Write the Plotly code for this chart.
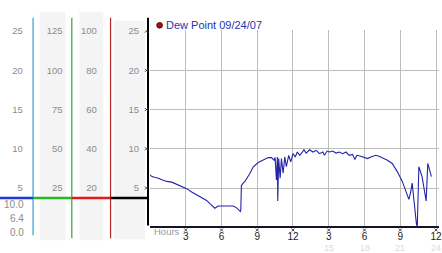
import plotly.graph_objects as go

W, H = 442, 253

# ---------------- data ----------------
hours = [0.0, 0.17, 0.44, 0.72, 1.0, 1.42, 1.83, 2.25, 2.67, 3.08, 3.5, 3.92, 4.33, 4.75,
         5.03, 5.25, 5.44, 5.72, 6.14, 6.56, 6.97, 7.25, 7.58, 7.62, 7.67, 7.8, 7.97, 8.39,
         8.67, 9.08, 9.5, 9.92, 10.19, 10.42, 10.5, 10.61, 10.69, 10.72, 10.8, 10.92, 11.03,
         11.17, 11.31, 11.44, 11.64, 11.81, 12.0, 12.19, 12.36, 12.56, 12.75, 12.92, 13.1,
         13.39, 13.67, 13.94, 14.22, 14.5, 14.64, 14.86, 15.06, 15.33, 15.61, 15.89, 16.17,
         16.44, 16.72, 17.0, 17.19, 17.36, 17.69, 17.97, 18.25, 18.53, 18.94, 19.22, 19.5,
         19.92, 20.33, 20.75, 21.17, 21.44, 21.72, 21.86, 22.0, 22.14, 22.42, 22.56, 22.83,
         23.17, 23.31, 23.61]
dew_point = [6.67, 6.46, 6.34, 6.25, 6.05, 5.84, 5.75, 5.5, 5.21, 4.92, 4.5, 4.17, 3.84, 3.42,
             3.0, 2.71, 2.42, 2.71, 2.71, 2.8, 2.71, 2.5, 2.0, 2.2, 5.34, 5.6, 5.84, 6.88,
             7.71, 8.25, 8.54, 8.88, 8.88, 8.54, 8.9, 6.04, 8.96, 3.34, 8.75, 6.25, 8.75,
             6.88, 8.96, 7.71, 9.17, 8.34, 9.38, 8.96, 9.59, 9.17, 9.5, 9.88, 9.46,
             9.88, 9.59, 9.8, 9.38, 9.59, 9.17, 9.71, 9.59, 9.71, 9.46, 9.59, 9.38,
             9.59, 9.17, 9.29, 8.63, 9.17, 9.04, 8.88, 8.75, 8.96, 9.17, 9.04, 8.88,
             8.54, 8.13, 7.09, 5.84, 4.59, 3.55, 4.38, 5.63, 3.55, -0.5, 7.71, 6.46,
             3.34, 8.13, 6.46]

legend_label = "Dew Point 09/24/07"
x_tick_vals = [3, 6, 9, 12, 15, 18, 21, 24]
x_tick_text = ["3", "6", "9", "12", "3", "6", "9", "12"]
faint_hours = [15, 18, 21, 24]
y_ticks = [5, 10, 15, 20, 25]
col1_ticks = [5, 10, 15, 20, 25]
col2_ticks = [25, 50, 75, 100, 125]
col3_ticks = [20, 40, 60, 80, 100]
col4_ticks = [5, 10, 15, 20, 25]
col2_scale, col3_scale = 5, 4
rain_labels = ["10.0", "6.4", "0.0"]

# ---------------- geometry helpers ----------------
def fx(px):
    return px / W

def fy(py):
    return 1 - py / H

Y0PX, PPU = 226.7, 8.0
YMIN, YMAX = 0.2, 25.1
XMIN, XMAX = 0.0, 24.25
X0PX = 151

FONT = "Liberation Sans, Arial, sans-serif"
GRAY = "#8c8c8c"

fig = go.Figure()

fig.add_trace(go.Scatter(x=hours, y=dew_point, mode="lines",
                         line=dict(color="#2323a8", width=1.1),
                         showlegend=False, hoverinfo="skip"))

# invisible anchors for the left scale axes
for ax, ticks in (("y2", col1_ticks), ("y3", col2_ticks), ("y4", col3_ticks), ("y5", col4_ticks)):
    fig.add_trace(go.Scatter(x=[1], y=[ticks[0]], yaxis=ax, mode="markers",
                             marker=dict(opacity=0), showlegend=False, hoverinfo="skip"))

ydom = [fy(Y0PX - PPU * YMIN), fy(Y0PX - PPU * YMAX)]
xdom = [fx(X0PX), 1.0]

def side_axis(pos_px, ticks, scale):
    return dict(overlaying="y", anchor="free", position=fx(pos_px), side="left",
                range=[YMIN * scale, YMAX * scale], tickvals=ticks,
                showgrid=False, zeroline=False, showline=False, ticks="",
                tickfont=dict(family=FONT, size=9.5, color=GRAY), fixedrange=True)

LP = 3
fig.update_layout(
    width=W, height=H, margin=dict(l=0, r=0, t=0, b=0),
    paper_bgcolor="white", plot_bgcolor="white", showlegend=False,
    xaxis=dict(domain=xdom, range=[XMIN, XMAX], tickvals=x_tick_vals, ticktext=x_tick_text,
               showgrid=True, gridcolor="#bdbdbd", gridwidth=1, zeroline=False,
               showline=True, linecolor="#15152a", linewidth=2, ticks="",
               ticklabeloverflow="allow",
               tickfont=dict(family=FONT, size=10, color="#222")),
    yaxis=dict(domain=ydom, range=[YMIN, YMAX], tickvals=y_ticks, showticklabels=False,
               showgrid=True, gridcolor="#bdbdbd", gridwidth=1, zeroline=False, showline=False,
               ticks=""),
    yaxis2=side_axis(20 + LP, col1_ticks, 1),
    yaxis3=side_axis(60 + LP, col2_ticks, col2_scale),
    yaxis4=side_axis(94.5 + LP, col3_ticks, col3_scale),
    yaxis5=side_axis(137 + LP, col4_ticks, 1),
)

shapes = []
def rect(x0, y0, x1, y1, color):
    shapes.append(dict(type="rect", xref="paper", yref="paper", x0=fx(x0), x1=fx(x1),
                       y0=fy(y1), y1=fy(y0), fillcolor=color, line=dict(width=0), layer="below"))

def line(x0, y0, x1, y1, color, w):
    shapes.append(dict(type="line", xref="paper", yref="paper", x0=fx(x0), x1=fx(x1),
                       y0=fy(y0), y1=fy(y1), line=dict(color=color, width=w), layer="above"))

rect(40, 7, 66, 240, "#f4f4f4")
rect(80, 7, 104, 240, "#f4f4f4")
rect(115, 16, 146, 239, "#f4f4f4")

line(33.3, 13, 33.3, 235, "#2e9fd0", 1.2)
line(72.3, 13, 72.3, 238, "#2fa72f", 1.2)
line(111.3, 13, 111.3, 238, "#b52525", 1.2)
line(149, 13, 149, 225, "#000000", 2)

line(0, 197, 33.3, 197, "#1c3ad6", 2.5)
line(33.3, 197, 72.3, 197, "#22bb22", 2.5)
line(72.3, 197, 111.3, 197, "#e01a1a", 2.5)
line(111.3, 197, 149, 197, "#000000", 2.5)

# small "x" tick glyphs on both axes (pixel-sized paths anchored on the scales)
XPATH = "M-1.5,-1.5 L1.5,1.5 M-1.5,1.5 L1.5,-1.5"
for h in x_tick_vals:
    shapes.append(dict(type="path", xref="x", yref="paper", xsizemode="pixel", ysizemode="pixel",
                       xanchor=h, yanchor=fy(229.5), path=XPATH,
                       line=dict(color="#444", width=1), layer="above"))
for v in y_ticks:
    shapes.append(dict(type="path", xref="paper", yref="y", xsizemode="pixel", ysizemode="pixel",
                       xanchor=fx(147.5), yanchor=v, path=XPATH,
                       line=dict(color="#444", width=1), layer="above"))

# legend dot
shapes.append(dict(type="circle", xref="paper", yref="paper",
                   x0=fx(157.8), x1=fx(163.6), y0=fy(23.6), y1=fy(17.8),
                   fillcolor="#a01010", line=dict(color="#400", width=0.8), layer="above"))
fig.update_layout(shapes=shapes)

ann = []
ann.append(dict(text=legend_label, x=fx(165), y=fy(20.7), xref="paper", yref="paper",
                xanchor="left", yanchor="middle", showarrow=False,
                font=dict(family=FONT, size=11, color="#2436b0")))
ann.append(dict(text="Hours", x=fx(153.5), y=fy(231.5), xref="paper", yref="paper",
                xanchor="left", yanchor="middle", showarrow=False,
                font=dict(family=FONT, size=9.5, color="#999")))
for h in faint_hours:
    ann.append(dict(text=str(h), x=h, y=fy(247.5), xref="x", yref="paper",
                    xanchor="center", yanchor="middle", showarrow=False,
                    font=dict(family=FONT, size=9, color="#dadada")))
for lbl, py in zip(rain_labels, [204, 218.3, 232]):
    ann.append(dict(text=lbl, x=fx(26.5), y=fy(py), xref="paper", yref="paper",
                    xanchor="right", yanchor="middle", showarrow=False,
                    font=dict(family=FONT, size=10, color=GRAY)))
fig.update_layout(annotations=ann)

fig.write_html("out.html")
